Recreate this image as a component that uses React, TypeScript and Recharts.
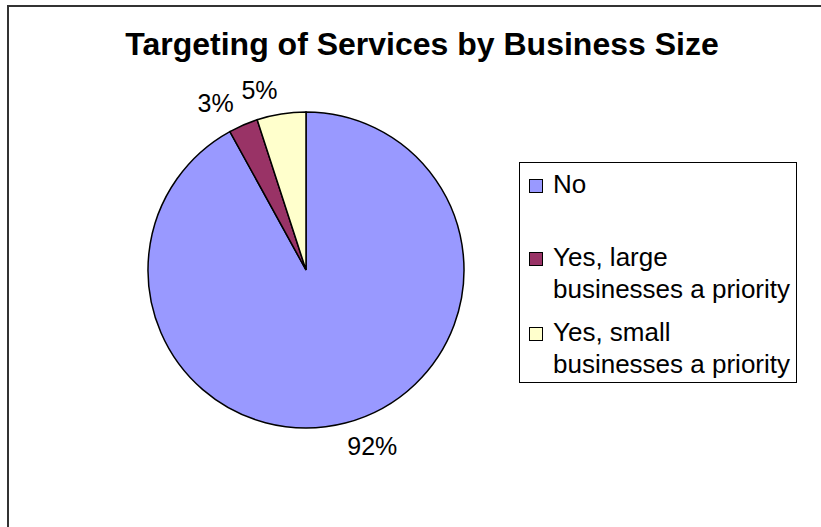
import React from "react";
import { PieChart, Pie, Cell, Legend } from "recharts";

const categories = [
  "No",
  "Yes, large businesses a priority",
  "Yes, small businesses a priority",
];
const shares = [92, 3, 5];
const colors = ["#9999FF", "#993366", "#FFFFCC"];

const data = categories.map((name, i) => ({ name, value: shares[i] }));

const FONT = "'Liberation Sans', Arial, sans-serif";
const RAD = Math.PI / 180;

// labels sit just outside the rim, anchored away from the pie like Excel does
const renderLabel = (props: any) => {
  const { cx, cy, midAngle, outerRadius, percent } = props;
  const r = outerRadius + 24;
  const cos = Math.cos(-midAngle * RAD);
  const sin = Math.sin(-midAngle * RAD);
  return (
    <text
      x={cx + r * cos - (cos > 0.1 ? 4 : 0)}
      y={cy + r * sin}
      textAnchor={cos > 0.1 ? "start" : "end"}
      dominantBaseline="central"
      fill="#000"
      fontSize={25}
      fontFamily={FONT}
    >
      {`${Math.round(percent * 100)}%`}
    </text>
  );
};

const itemTops = [5, 78, 153];

const LegendBox = ({ payload }: any) => (
  <div
    style={{
      position: "relative",
      width: 276,
      height: 219,
      border: "1px solid #000",
      background: "#fff",
      fontFamily: FONT,
      fontSize: 26,
      lineHeight: "32px",
      color: "#000",
    }}
  >
    {(payload || []).map((entry: any, i: number) => (
      <div
        key={`leg-${i}`}
        style={{ position: "absolute", left: 9, top: itemTops[i], display: "flex" }}
      >
        <div
          style={{
            width: 12,
            height: 12,
            marginTop: 11,
            border: "1px solid #000",
            background: entry.color || colors[i],
            flexShrink: 0,
          }}
        />
        <div style={{ marginLeft: 10, width: 246 }}>{entry.value}</div>
      </div>
    ))}
  </div>
);

export default function App() {
  return (
    <div
      style={{
        position: "absolute",
        left: 0,
        top: 0,
        width: 821,
        height: 527,
        background: "#fff",
        overflow: "hidden",
      }}
    >
      <div
        style={{
          position: "absolute",
          left: 7,
          top: 5,
          width: 830,
          height: 540,
          borderTop: "2px solid #333",
          borderLeft: "2px solid #333",
        }}
      />
      <div
        style={{
          position: "absolute",
          left: 0,
          top: 26,
          width: 844,
          textAlign: "center",
          fontFamily: FONT,
          fontWeight: "bold",
          fontSize: 32,
          lineHeight: "36px",
          color: "#000",
        }}
      >
        Targeting of Services by Business Size
      </div>
      <div style={{ position: "absolute", left: 0, top: 0 }}>
        <PieChart width={821} height={527} margin={{ top: 0, right: 0, bottom: 0, left: 0 }}>
          <Pie
            data={data}
            dataKey="value"
            nameKey="name"
            cx={306}
            cy={270}
            outerRadius={158}
            startAngle={90}
            endAngle={-270}
            stroke="#000"
            strokeWidth={1.5}
            label={renderLabel}
            labelLine={false}
            isAnimationActive={false}
          >
            {data.map((entry, index) => (
              <Cell key={`cell-${index}`} fill={colors[index]} />
            ))}
          </Pie>
          <Legend
            content={<LegendBox />}
            wrapperStyle={{ left: 519, top: 162, width: 278, height: 221, right: "auto", bottom: "auto" }}
          />
        </PieChart>
      </div>
    </div>
  );
}
